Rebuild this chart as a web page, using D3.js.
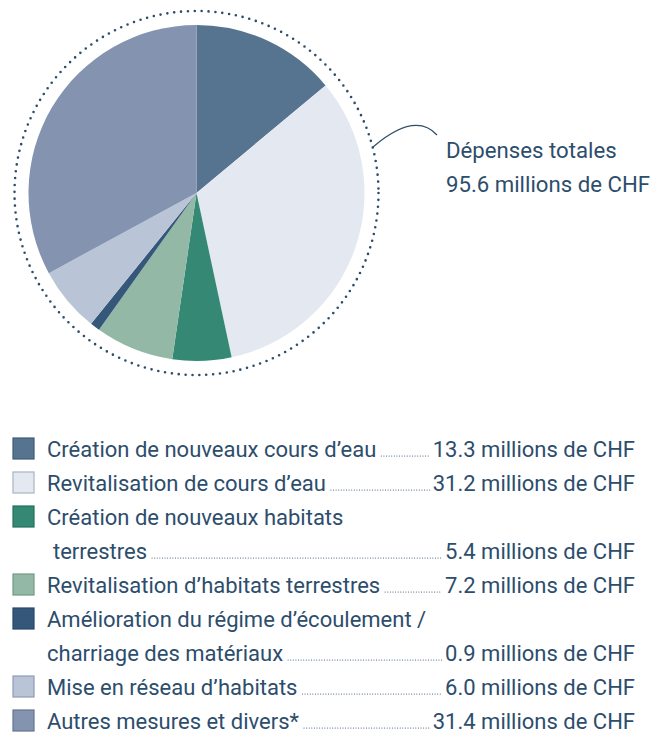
<!DOCTYPE html>
<html>
<head>
<meta charset="utf-8">
<script src="https://cdn.jsdelivr.net/npm/d3@7"></script>
<style>
  html, body { margin: 0; padding: 0; background: white; }
  svg { display: block; font-family: Roboto, "Noto Sans", sans-serif; }
</style>
</head>
<body>
<div id="chart"></div>
<script>
var
  // spending per measure, millions of CHF
  categories = [
    "Création de nouveaux cours d’eau",
    "Revitalisation de cours d’eau",
    "Création de nouveaux habitats terrestres",
    "Revitalisation d’habitats terrestres",
    "Amélioration du régime d’écoulement / charriage des matériaux",
    "Mise en réseau d’habitats",
    "Autres mesures et divers*"
  ],
  values = [13.3, 31.2, 5.4, 7.2, 0.9, 6.0, 31.4],
  // how the legend breaks the long names
  labelLines = [
    ["Création de nouveaux cours d’eau"],
    ["Revitalisation de cours d’eau"],
    ["Création de nouveaux habitats", "terrestres"],
    ["Revitalisation d’habitats terrestres"],
    ["Amélioration du régime d’écoulement /", "charriage des matériaux"],
    ["Mise en réseau d’habitats"],
    ["Autres mesures et divers*"]
  ],
  colors = ["#56738f", "#e3e8f1", "#348874", "#93b8a6", "#34577a", "#b9c4d6", "#8494b0"],
  borders = ["#3f5b78", "#a9b4c4", "#26705e", "#6f9a86", "#27476a", "#8e9cb3", "#64758f"],
  totalLines = ["Dépenses totales", "95.6 millions de CHF"],

  WIDTH = 662,
  HEIGHT = 738,
  TEXT_COLOR = "#2d4d6c",

  // pie
  CENTER_X = 196.5,
  CENTER_Y = 193,
  RADIUS = 168,
  DOTTED_RADIUS = 182,

  // legend
  LEGEND_TOP = 457,        // baseline of the first row
  ROW_HEIGHT = 34,
  SQUARE_X = 13,
  SQUARE_SIZE = 21,
  LABEL_X = 47,
  INDENT_X = 53,
  VALUE_RIGHT = 635,
  FONT_SIZE = 22;

function formatValue(v){
  return v.toFixed(1) + " millions de CHF";
}

var svg = d3.select("#chart").append("svg")
  .attr("width", WIDTH)
  .attr("height", HEIGHT);

// pie
var pie = d3.pie().sort(null).value(function(d){ return d; }),
  arc = d3.arc().innerRadius(0).outerRadius(RADIUS),
  pieGroup = svg.append("g")
    .attr("transform", "translate(" + CENTER_X + "," + CENTER_Y + ")");

pieGroup.selectAll("path")
  .data(pie(values))
  .join("path")
  .attr("d", arc)
  .attr("fill", function(d, i){ return colors[i]; });

pieGroup.append("circle")
  .attr("r", DOTTED_RADIUS)
  .attr("fill", "none")
  .attr("stroke", TEXT_COLOR)
  .attr("stroke-width", 2.6)
  .attr("stroke-linecap", "round")
  .attr("stroke-dasharray", "0 6.9");

// connector and total
svg.append("path")
  .attr("d", "M373,147 Q415,111 437,135")
  .attr("fill", "none")
  .attr("stroke", TEXT_COLOR)
  .attr("stroke-width", 1.2);

svg.selectAll("text.total")
  .data(totalLines)
  .join("text")
  .attr("class", "total")
  .attr("x", 446)
  .attr("y", function(d, i){ return 158 + i * 34; })
  .attr("fill", TEXT_COLOR)
  .attr("font-size", 22.2)
  .text(function(d){ return d; });

// legend
var legend = svg.append("g"),
  row = 0;

labelLines.forEach(function(lines, i){
  lines.forEach(function(line, j){
    var baseline = LEGEND_TOP + row * ROW_HEIGHT,
      x = (j > 0 && i === 2) ? INDENT_X : LABEL_X;

    if (j === 0) {
      legend.append("rect")
        .attr("x", SQUARE_X)
        .attr("y", baseline - 19)
        .attr("width", SQUARE_SIZE)
        .attr("height", SQUARE_SIZE)
        .attr("fill", colors[i])
        .attr("stroke", borders[i])
        .attr("stroke-width", 1.2);
    }

    var label = legend.append("text")
      .attr("x", x)
      .attr("y", baseline)
      .attr("fill", TEXT_COLOR)
      .attr("font-size", FONT_SIZE)
      .text(line);

    if (j === lines.length - 1) {
      var value = legend.append("text")
        .attr("x", VALUE_RIGHT)
        .attr("y", baseline)
        .attr("text-anchor", "end")
        .attr("fill", TEXT_COLOR)
        .attr("font-size", FONT_SIZE)
        .text(formatValue(values[i]));

      var labelEnd = x + label.node().getComputedTextLength() + 5,
        valueStart = VALUE_RIGHT - value.node().getComputedTextLength() - 3;

      legend.append("line")
        .attr("x1", labelEnd)
        .attr("x2", valueStart)
        .attr("y1", baseline - 1)
        .attr("y2", baseline - 1)
        .attr("stroke", TEXT_COLOR)
        .attr("stroke-width", 1.1)
        .attr("stroke-linecap", "round")
        .attr("stroke-dasharray", "0 2.6");
    }
    row += 1;
  });
});
</script>
</body>
</html>
